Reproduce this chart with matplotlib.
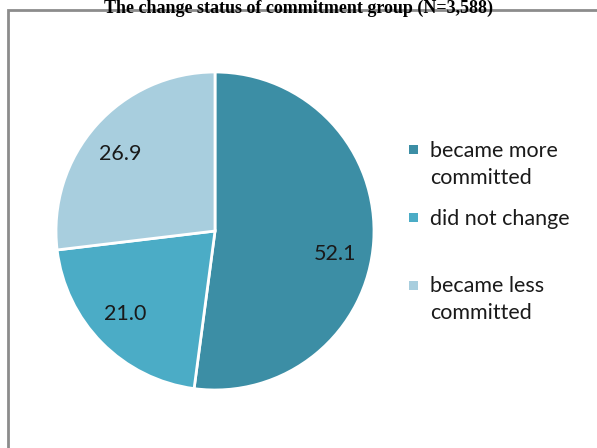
import numpy as np
import matplotlib.pyplot as plt
from matplotlib.patches import Rectangle

# Share of respondents by change in commitment
categories = ['became more\ncommitted', 'did not change', 'became less\ncommitted']
values = [52.1, 21.0, 26.9]
colors = ['#3C8EA5', '#4BACC6', '#A8CEDE']
# angle (deg) at which each value label sits
label_angles = [-11.0, 223.0, 141.0]

W, H = 597, 448
fig = plt.figure(figsize=(W / 100, H / 100), dpi=100)

# outer chart frame, runs off the right and bottom edges
fig.patches.append(Rectangle((8 / W, -0.05), 1.2, (H - 10) / H + 0.05,
                             transform=fig.transFigure, fill=False,
                             edgecolor='#8C8C8C', linewidth=2))

# title sits right on top of the frame
fig.text(0.5, 1.0, 'The change status of commitment group (N=3,588)',
         ha='center', va='top', fontsize=13, fontweight='bold',
         family='Liberation Serif')

cx, cy, r = 215, 231, 159
ax = fig.add_axes([(cx - r) / W, (H - cy - r) / H, 2 * r / W, 2 * r / H])
wedges, _ = ax.pie(values, colors=colors, startangle=90, counterclock=False,
                   radius=1.0,
                   wedgeprops=dict(edgecolor='white', linewidth=2))
ax.set_xlim(-1.0, 1.0)
ax.set_ylim(-1.0, 1.0)
ax.set_aspect('equal')
ax.axis('off')

for v, a in zip(values, label_angles):
    t = np.radians(a)
    ax.text(0.77 * np.cos(t), 0.77 * np.sin(t), f'{v:.1f}', ha='center',
            va='center', fontsize=15.5, family='Lato', color='#1a1a1a')

# legend: square key next to the first line of each label
key = 9
for i, (lab, c) in enumerate(zip(categories, colors)):
    y = 150 + 67.5 * i
    fig.patches.append(Rectangle((409 / W, 1 - (y + key / 2) / H), key / W, key / H,
                                 transform=fig.transFigure, facecolor=c,
                                 edgecolor='none'))
    fig.text(430 / W, 1 - (y - 9) / H, lab, ha='left', va='top',
             fontsize=15.5, family='Lato', color='#1a1a1a', linespacing=1.45)

fig.savefig('out.png', dpi=100)
